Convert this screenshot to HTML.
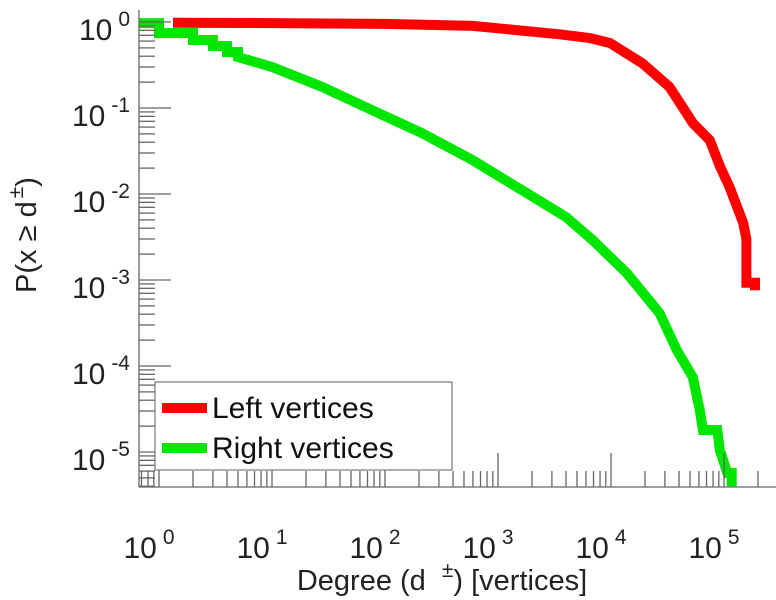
<!DOCTYPE html>
<html><head><meta charset="utf-8"><style>
html,body{margin:0;padding:0;background:#fff;}
svg{display:block;font-family:"Liberation Sans",Arial,sans-serif;}
</style></head><body>
<svg id="chart" width="776" height="600" viewBox="0 0 776 600">
<g id="marks"></g>
<g id="axes"></g>
<text x="0" y="0" transform="translate(36,235) rotate(-90)" text-anchor="middle" font-size="29" fill="#222">P(x ≥ d<tspan dx="3" dy="-13" font-size="21">±</tspan><tspan dy="13">)</tspan></text>
<text x="442" y="590" text-anchor="middle" font-size="29" fill="#222">Degree (d  <tspan dx="8" dy="-13" font-size="21">±</tspan><tspan dy="13">) [vertices]</tspan></text>
<g>
<rect x="155" y="382" width="297" height="88" fill="#fff" stroke="#777" stroke-width="1.2"/>
<g>
<line x1="162" y1="408" x2="207" y2="408" stroke="#ff0000" stroke-width="10"/>
<text x="212" y="418" font-size="30" fill="#111">Left vertices</text></g>
<g>
<line x1="162" y1="448" x2="207" y2="448" stroke="#00e600" stroke-width="10"/>
<text x="212" y="458" font-size="30" fill="#111">Right vertices</text></g>
</g>
</svg>
<script>
const leftDegree = [1.33, 10, 100, 600, 3500, 6500, 9800, 19000, 33000, 53000, 75000, 92000, 112000, 148000, 158000, 158000, 188000, 188000];
const leftProb = [0.98, 0.97, 0.95, 0.9, 0.72, 0.65, 0.57, 0.33, 0.175, 0.067, 0.042, 0.021, 0.012, 0.0046, 0.003, 0.00093, 0.00093, 0.00076];
const rightDegree = [0.67, 1, 1, 2, 2, 3, 3, 4, 4, 5, 5, 10, 27.7, 76, 212, 590, 1640, 4000, 6900, 13800, 27000, 38000, 53000, 61000, 65000, 87000, 92000, 107000, 117000, 117000];
const rightProb = [0.97, 0.97, 0.745, 0.745, 0.617, 0.617, 0.526, 0.526, 0.448, 0.448, 0.392, 0.30, 0.176, 0.095, 0.051, 0.025, 0.011, 0.0054, 0.0029, 0.0012, 0.00041, 0.000155, 0.000074, 0.000031, 0.000018, 0.000018, 0.0000105, 0.0000057, 0.0000057, 0.000004];
const xTickExps = [0, 1, 2, 3, 4, 5];
const yTickExps = [0, -1, -2, -3, -4, -5];

const X0 = 159, XD = 113, Y0 = 22, YD = 86;
const AX_L = 139, AX_B = 487, AX_T = 10, AX_R = 776;
function sx(d){ return X0 + Math.log10(d) * XD; }
function sy(p){ return Y0 - Math.log10(p) * YD; }
const NS = "http://www.w3.org/2000/svg";
const marks = document.getElementById('marks');
const axes = document.getElementById('axes');

function series(xs, ys, color, name){
  const pts = xs.map((d,i)=> sx(d).toFixed(1)+','+Math.min(AX_B, sy(ys[i])).toFixed(1)).join(' ');
  const pl = document.createElementNS(NS,'polyline');
  pl.setAttribute('points', pts);
  pl.setAttribute('fill','none');
  pl.setAttribute('stroke', color);
  pl.setAttribute('stroke-width','10');
  pl.setAttribute('stroke-linejoin','miter');
  
  
  marks.appendChild(pl);
}
series(rightDegree, rightProb, '#00e600', 'right-vertices-line');
series(leftDegree, leftProb, '#ff0000', 'left-vertices-line');

function line(x1,y1,x2,y2,name){
  const l = document.createElementNS(NS,'line');
  l.setAttribute('x1',x1); l.setAttribute('y1',y1); l.setAttribute('x2',x2); l.setAttribute('y2',y2);
  l.setAttribute('stroke','#666'); l.setAttribute('stroke-width','1.3');
  
  
  axes.appendChild(l);
}
line(AX_L, AX_T, AX_L, AX_B, 'y-axis-line');
line(AX_L, AX_B, AX_R, AX_B, 'x-axis-line');

function label(x, y, exp, anchor, name){
  const t = document.createElementNS(NS,'text');
  t.setAttribute('x', x); t.setAttribute('y', y);
  t.setAttribute('font-size','30'); t.setAttribute('fill','#222');
  t.setAttribute('text-anchor', anchor);
  t.innerHTML = '10<tspan dx="6" dy="-14" font-size="21">' + exp + '</tspan>';
  
  
  axes.appendChild(t);
}
for (let e = -1; e <= 5; e++){
  for (let m = 1; m <= 9; m++){
    const x = X0 + (e + Math.log10(m)) * XD;
    if (x < AX_L || x > AX_R) continue;
    line(x, AX_B, x, AX_B - (m===1 ? 34 : 16), 'x-tick');
  }
}
xTickExps.forEach(e => label(X0 + e*XD - 10, 558, String(e), 'middle', 'x-tick-label'));
for (let e = -6; e <= 0; e++){
  for (let m = 1; m <= 9; m++){
    const y = Y0 - (e + Math.log10(m)) * YD;
    if (y < AX_T || y > AX_B) continue;
    line(AX_L, y, AX_L + (m===1 ? 32 : 16), y, 'y-tick');
  }
}
yTickExps.forEach(e => label(130, Y0 - e*YD + 18, e===0 ? '0' : '-' + (-e), 'end', 'y-tick-label'));
</script>
</body></html>
